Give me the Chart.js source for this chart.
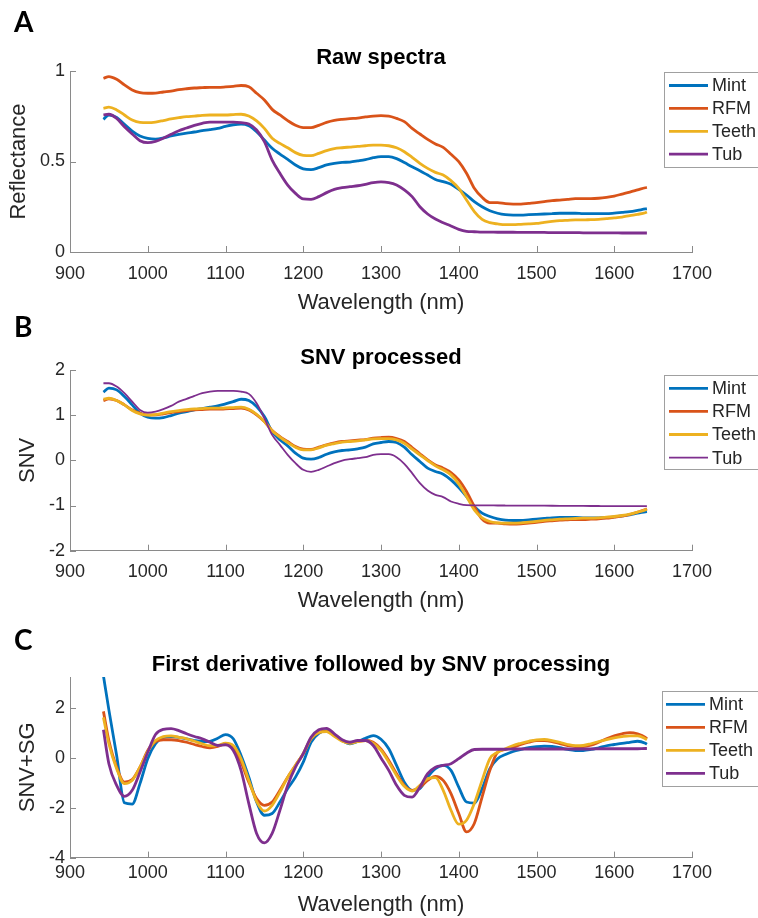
<!DOCTYPE html>
<html>
<head>
<meta charset="utf-8">
<title>Spectra</title>
<script src="https://cdn.jsdelivr.net/npm/chart.js@4.4.1/dist/chart.umd.min.js"></script>
<style>
  html, body { margin: 0; padding: 0; background: #fff; }
  #wrap { position: relative; width: 758px; height: 918px; overflow: hidden; }
  canvas { position: absolute; left: 0; }
</style>
</head>
<body>
<div id="wrap">
  <canvas id="rawChart" width="758" height="318" style="top:0"></canvas>
  <canvas id="snvChart" width="758" height="316" style="top:300px"></canvas>
  <canvas id="derivChart" width="758" height="318" style="top:600px"></canvas>
</div>
<script>
// wavelengths (nm) shared by every spectrum
const wavelength = [943, 950,
  960, 970, 980, 990, 1000,
  1010, 1020, 1030, 1040, 1050, 1060, 1070, 1080, 1090, 1100,
  1110, 1120, 1130, 1140, 1150, 1160, 1170, 1180, 1190, 1200,
  1210, 1220, 1230, 1240, 1250, 1260, 1270, 1280, 1290, 1300,
  1310, 1320, 1330, 1340, 1350, 1360, 1370, 1380, 1390, 1400,
  1410, 1420, 1430, 1440, 1450, 1460, 1470, 1480, 1490, 1500,
  1510, 1520, 1530, 1540, 1550, 1560, 1570, 1580, 1590, 1600,
  1610, 1620, 1630, 1640,
  1642];

const seriesNames = ['Mint', 'RFM', 'Teeth', 'Tub'];
const seriesColors = ['#0072BD', '#D95319', '#EDB120', '#7E2F8E'];
const xTicks = [900, 1000, 1100, 1200, 1300, 1400, 1500, 1600, 1700];

// A: raw reflectance
const rawMint = [.733, .757,
  .744, .705, .668, .641, .628,
  .624, .630, .641, .650, .657, .663, .670, .676, .683, .694,
  .703, .707, .698, .665, .619, .573, .541, .512, .481, .459,
  .455, .466, .481, .490, .495, .497, .503, .510, .521, .527,
  .527, .516, .494, .471, .449, .425, .401, .389, .374, .346,
  .315, .278, .250, .228, .214, .206, .204, .204, .206, .208,
  .210, .212, .214, .214, .214, .212, .212, .212, .212, .215,
  .219, .223, .230, .238,
  .239];
const rawRFM = [.960, .969,
  .954, .923, .895, .880, .877,
  .878, .884, .889, .897, .902, .906, .908, .910, .910, .912,
  .915, .920, .913, .877, .840, .788, .757, .726, .700, .687,
  .687, .700, .716, .727, .733, .737, .740, .746, .751, .753,
  .751, .738, .720, .683, .652, .622, .597, .578, .540, .499,
  .435, .352, .302, .273, .273, .267, .265, .265, .269, .273,
  .278, .284, .287, .291, .295, .295, .295, .297, .302, .309,
  .320, .331, .343, .355,
  .357];
const rawTeeth = [.794, .800,
  .785, .757, .729, .716, .715,
  .718, .726, .735, .742, .748, .751, .755, .757, .757, .757,
  .759, .761, .751, .724, .683, .628, .600, .576, .549, .534,
  .532, .545, .560, .571, .576, .580, .584, .587, .591, .591,
  .587, .576, .554, .523, .490, .462, .440, .425, .394, .352,
  .287, .223, .180, .162, .155, .151, .151, .153, .155, .158,
  .164, .169, .173, .175, .177, .177, .179, .180, .184, .188,
  .193, .201, .208, .217,
  .221];
const rawTub = [.757, .761,
  .738, .692, .652, .615, .604,
  .611, .628, .650, .670, .685, .700, .711, .718, .718, .718,
  .718, .715, .707, .674, .610, .508, .435, .370, .324, .293,
  .291, .306, .328, .346, .355, .361, .366, .374, .383, .387,
  .383, .370, .343, .306, .250, .210, .182, .162, .144, .125,
  .114, .112, .110, .110, .109, .109, .109, .108, .108, .108,
  .108, .107, .107, .107, .107, .106, .106, .106, .106, .106,
  .105, .105, .105, .105,
  .105];

// B: SNV
const snvMint = [1.508, 1.597,
  1.56, 1.412, 1.228, 1.044, 0.955,
  0.933, 0.948, 0.992, 1.044, 1.08, 1.117, 1.147, 1.176, 1.206, 1.25,
  1.30, 1.353, 1.324, 1.191, 0.97, 0.638, 0.454, 0.321, 0.159, 0.048,
  0.026, 0.063, 0.136, 0.188, 0.218, 0.232, 0.254, 0.291, 0.365, 0.395,
  0.417, 0.395, 0.291, 0.122, -0.026, -0.173, -0.247, -0.306, -0.431, -0.601,
  -0.80, -1.021, -1.169, -1.243, -1.294, -1.324, -1.331, -1.331, -1.316, -1.302,
  -1.287, -1.272, -1.265, -1.265, -1.265, -1.272, -1.272, -1.272, -1.265, -1.25,
  -1.228, -1.206, -1.169, -1.139,
  -1.132];
const snvRFM = [1.324, 1.36,
  1.324, 1.228, 1.117, 1.044, 1.007,
  1.007, 1.029, 1.058, 1.08, 1.103, 1.117, 1.124, 1.132, 1.132, 1.139,
  1.147, 1.154, 1.117, 1.007, 0.859, 0.66, 0.527, 0.417, 0.306, 0.247,
  0.24, 0.291, 0.343, 0.387, 0.417, 0.431, 0.446, 0.461, 0.49, 0.505,
  0.513, 0.483, 0.417, 0.284, 0.144, 0.011, -0.10, -0.173, -0.269, -0.431,
  -0.69, -1.021, -1.302, -1.39, -1.39, -1.405, -1.412, -1.405, -1.39, -1.375,
  -1.353, -1.338, -1.324, -1.316, -1.309, -1.309, -1.302, -1.294, -1.28, -1.258,
  -1.236, -1.199, -1.147, -1.088,
  -1.073];
const snvTeeth = [1.353, 1.375,
  1.324, 1.228, 1.103, 1.029, 1.0,
  1.014, 1.044, 1.08, 1.103, 1.124, 1.139, 1.147, 1.154, 1.154, 1.161,
  1.169, 1.176, 1.132, 1.021, 0.859, 0.653, 0.513, 0.395, 0.291, 0.232,
  0.232, 0.277, 0.336, 0.372, 0.402, 0.417, 0.431, 0.454, 0.476, 0.483,
  0.483, 0.454, 0.38, 0.247, 0.122, -0.004, -0.122, -0.21, -0.321, -0.52,
  -0.80, -1.095, -1.272, -1.353, -1.383, -1.39, -1.39, -1.383, -1.368, -1.353,
  -1.331, -1.316, -1.302, -1.294, -1.287, -1.28, -1.28, -1.272, -1.258, -1.243,
  -1.221, -1.191, -1.147, -1.095,
  -1.081];
const snvTub = [1.707, 1.707,
  1.633, 1.486, 1.30, 1.117, 1.058,
  1.08, 1.132, 1.206, 1.30, 1.36, 1.427, 1.486, 1.523, 1.538, 1.538,
  1.538, 1.523, 1.471, 1.265, 0.933, 0.564, 0.343, 0.122, -0.063, -0.21,
  -0.254, -0.21, -0.136, -0.063, -0.004, 0.026, 0.048, 0.07, 0.122, 0.136,
  0.136, 0.07, -0.077, -0.284, -0.505, -0.667, -0.763, -0.815, -0.911, -0.962,
  -0.992, -0.995, -0.997, -0.998, -0.999, -1.0, -1.0, -1.001, -1.002, -1.003,
  -1.004, -1.005, -1.006, -1.007, -1.008, -1.009, -1.01, -1.011, -1.012, -1.012,
  -1.013, -1.013, -1.014, -1.014,
  -1.014];

// C: first derivative + SNV
const derMint = [3.3, 1.93,
  0.1, -1.8, -1.85, -1.03, -0.03,
  0.57, 0.83, 0.86, 0.83, 0.77, 0.70, 0.66, 0.67, 0.79, 0.94,
  0.77, 0.10, -0.77, -1.77, -2.30, -2.23, -1.77, -1.23, -0.77, -0.17,
  0.63, 0.99, 1.10, 0.93, 0.70, 0.57, 0.66, 0.79, 0.90, 0.75,
  0.37, -0.30, -0.97, -1.30, -1.23, -0.77, -0.43, -0.30, -0.50, -1.17,
  -1.77, -1.81, -1.23, -0.43, -0.03, 0.14, 0.26, 0.34, 0.41, 0.45,
  0.47, 0.46, 0.41, 0.34, 0.30, 0.30, 0.34, 0.41, 0.49, 0.54,
  0.59, 0.63, 0.67, 0.59,
  0.55];
const derRFM = [1.87, 0.70,
  -0.37, -0.97, -0.87, -0.37, 0.30,
  0.66, 0.73, 0.73, 0.70, 0.63, 0.54, 0.46, 0.41, 0.46, 0.57,
  0.43, -0.17, -0.97, -1.63, -1.90, -1.77, -1.30, -0.77, -0.30, 0.17,
  0.77, 1.02, 1.07, 0.90, 0.70, 0.61, 0.67, 0.70, 0.63, 0.35,
  -0.10, -0.63, -1.10, -1.30, -1.17, -0.90, -0.74, -0.90, -1.43, -2.23,
  -2.97, -2.63, -1.57, -0.50, 0.23, 0.34, 0.43, 0.54, 0.63, 0.70,
  0.70, 0.66, 0.57, 0.50, 0.46, 0.46, 0.51, 0.63, 0.77, 0.89,
  0.97, 1.02, 0.97, 0.83,
  0.77];
const derTeeth = [1.63, 0.57,
  -0.43, -1.03, -0.90, -0.37, 0.26,
  0.70, 0.86, 0.89, 0.83, 0.77, 0.67, 0.57, 0.49, 0.50, 0.59,
  0.50, -0.03, -0.90, -1.74, -2.13, -1.90, -1.37, -0.77, -0.30, 0.17,
  0.77, 1.02, 1.06, 0.87, 0.67, 0.59, 0.66, 0.70, 0.59, 0.30,
  -0.17, -0.70, -1.14, -1.33, -1.10, -0.83, -0.79, -1.30, -2.10, -2.66,
  -2.50, -1.83, -0.90, -0.03, 0.23, 0.37, 0.50, 0.59, 0.67, 0.73,
  0.74, 0.70, 0.63, 0.54, 0.49, 0.50, 0.57, 0.66, 0.74, 0.81,
  0.86, 0.89, 0.89, 0.77,
  0.73];
const derTub = [1.13, -0.23,
  -1.10, -1.54, -1.30, -0.57, 0.23,
  0.94, 1.15, 1.18, 1.10, 0.97, 0.86, 0.77, 0.63, 0.50, 0.53,
  0.30, -0.50, -1.83, -3.03, -3.41, -3.03, -2.10, -1.10, -0.37, 0.17,
  0.83, 1.13, 1.19, 0.97, 0.73, 0.63, 0.70, 0.70, 0.50, 0.00,
  -0.50, -1.10, -1.50, -1.57, -1.17, -0.63, -0.37, -0.30, -0.23, -0.03,
  0.19, 0.34, 0.35, 0.35, 0.35, 0.35, 0.36, 0.36, 0.36, 0.36,
  0.36, 0.36, 0.36, 0.36, 0.36, 0.36, 0.36, 0.37, 0.37, 0.37,
  0.37, 0.37, 0.37, 0.38,
  0.38];

const FONT = '"Liberation Sans", Arial, Helvetica, sans-serif';
const TEXT = '#262626';
const AXIS = '#8a8a8a';

Chart.defaults.font.family = FONT;
Chart.defaults.color = TEXT;

// ticks drawn inward, matlab style
const insideTicks = {
  id: 'insideTicks',
  afterDraw(chart) {
    const { ctx, chartArea: a, scales: { x, y } } = chart;
    ctx.save();
    ctx.strokeStyle = AXIS;
    ctx.lineWidth = 1;
    ctx.beginPath();
    x.ticks.forEach(t => {
      const px = Math.round(x.getPixelForValue(t.value)) + 0.5;
      ctx.moveTo(px, a.bottom);
      ctx.lineTo(px, a.bottom - 6);
    });
    y.ticks.forEach(t => {
      const py = Math.round(y.getPixelForValue(t.value)) + 0.5;
      ctx.moveTo(a.left, py);
      ctx.lineTo(a.left + 6, py);
    });
    ctx.stroke();
    ctx.restore();
  }
};

// boxed legend sitting over the right end of the axes
const boxLegend = {
  id: 'boxLegend',
  afterDraw(chart, args, o) {
    const { ctx } = chart;
    ctx.save();
    ctx.fillStyle = '#fff';
    ctx.fillRect(o.left, o.top, 120, o.height);
    ctx.strokeStyle = '#a0a0a0';
    ctx.lineWidth = 1;
    ctx.strokeRect(o.left + 0.5, o.top + 0.5, 120, o.height);
    ctx.font = '18px ' + FONT;
    ctx.textBaseline = 'middle';
    ctx.textAlign = 'left';
    chart.data.datasets.forEach((ds, i) => {
      const yy = o.firstRow + i * o.rowStep;
      ctx.strokeStyle = ds.borderColor;
      ctx.lineWidth = ds.borderWidth;
      ctx.beginPath();
      ctx.moveTo(o.lineX0, yy);
      ctx.lineTo(o.lineX1, yy);
      ctx.stroke();
      ctx.fillStyle = TEXT;
      ctx.fillText(ds.label, o.textX, yy + 1);
    });
    ctx.restore();
  }
};

// panel letter and bold title
const panelText = {
  id: 'panelText',
  afterDraw(chart, args, o) {
    const { ctx, chartArea: a } = chart;
    ctx.save();
    ctx.fillStyle = '#000';
    ctx.textBaseline = 'alphabetic';
    ctx.textAlign = 'left';
    ctx.font = 'bold 28px Lato, "Noto Sans", sans-serif';
    ctx.fillText(o.letter, 14, o.letterY);
    ctx.textAlign = 'center';
    ctx.font = 'bold 22px ' + FONT;
    ctx.fillText(o.title, (a.left + a.right) / 2, o.titleY);
    ctx.restore();
  }
};

function seriesSets(lists, widths) {
  return seriesNames.map((name, i) => ({
    label: name,
    data: wavelength.map((w, k) => ({ x: w, y: lists[i][k] })),
    borderColor: seriesColors[i],
    borderWidth: widths[i],
    pointRadius: 0,
    fill: false,
    cubicInterpolationMode: 'monotone',
    order: 3 - i
  }));
}

function makeChart(id, p) {
  return new Chart(document.getElementById(id), {
    type: 'line',
    data: { datasets: seriesSets(p.lists, p.widths) },
    plugins: [insideTicks, boxLegend, panelText],
    options: {
      responsive: false,
      animation: false,
      events: [],
      layout: { padding: { left: 0, right: 66, top: p.top, bottom: 0 } },
      scales: {
        x: {
          type: 'linear',
          min: 900,
          max: 1700,
          afterBuildTicks: s => { s.ticks = xTicks.map(v => ({ value: v })); },
          ticks: {
            padding: p.xPad,
            maxRotation: 0,
            autoSkip: false,
            font: { size: 18 },
            color: TEXT,
            callback: v => String(v)
          },
          grid: { display: false, drawTicks: false },
          border: { display: true, color: AXIS, width: 1 },
          title: {
            display: true,
            text: 'Wavelength (nm)',
            color: TEXT,
            font: { size: 22 },
            padding: { top: 0, bottom: p.xTitlePad }
          },
          afterFit: s => { s.height = p.xHeight; }
        },
        y: {
          type: 'linear',
          min: p.yMin,
          max: p.yMax,
          ticks: {
            stepSize: p.yStep,
            includeBounds: false,
            padding: 5,
            font: { size: 18 },
            color: TEXT,
            callback: v => String(v)
          },
          grid: { display: false, drawTicks: false },
          border: { display: true, color: AXIS, width: 1 },
          title: {
            display: true,
            text: p.yTitle,
            color: TEXT,
            font: { size: 22 },
            padding: { top: p.yTitlePad, bottom: 0 }
          },
          afterFit: s => { s.width = 70; }
        }
      },
      plugins: {
        legend: { display: false },
        title: { display: false },
        tooltip: { enabled: false },
        boxLegend: p.legend,
        panelText: p.text
      }
    }
  });
}

makeChart('rawChart', {
  lists: [rawMint, rawRFM, rawTeeth, rawTub],
  widths: [2.8, 2.8, 2.8, 2.8],
  top: 71, xHeight: 66, xPad: 11, xTitlePad: 2,
  yMin: 0, yMax: 1, yStep: 0.5, yTitle: 'Reflectance', yTitlePad: 6,
  legend: { left: 664, top: 72, height: 95, firstRow: 85.5, rowStep: 22.9, lineX0: 669, lineX1: 708, textX: 712 },
  text: { letter: 'A', letterY: 32, title: 'Raw spectra', titleY: 64 }
});

makeChart('snvChart', {
  lists: [snvMint, snvRFM, snvTeeth, snvTub],
  widths: [2.8, 2.8, 2.8, 1.8],
  top: 70, xHeight: 65.3, xPad: 11, xTitlePad: 2,
  yMin: -2, yMax: 2, yStep: 1, yTitle: 'SNV', yTitlePad: 15,
  legend: { left: 664, top: 75, height: 94, firstRow: 88.3, rowStep: 23.1, lineX0: 669, lineX1: 708, textX: 712 },
  text: { letter: 'B', letterY: 37, title: 'SNV processed', titleY: 64 }
});

makeChart('derivChart', {
  lists: [derMint, derRFM, derTeeth, derTub],
  widths: [2.8, 2.8, 2.8, 2.8],
  top: 77, xHeight: 60.4, xPad: 5, xTitlePad: 0,
  yMin: -4, yMax: 3.25, yStep: 2, yTitle: 'SNV+SG', yTitlePad: 15,
  legend: { left: 662, top: 91, height: 95, firstRow: 104.3, rowStep: 23, lineX0: 666, lineX1: 705, textX: 709 },
  text: { letter: 'C', letterY: 50, title: 'First derivative followed by SNV processing', titleY: 70.5 }
});
</script>
</body>
</html>
